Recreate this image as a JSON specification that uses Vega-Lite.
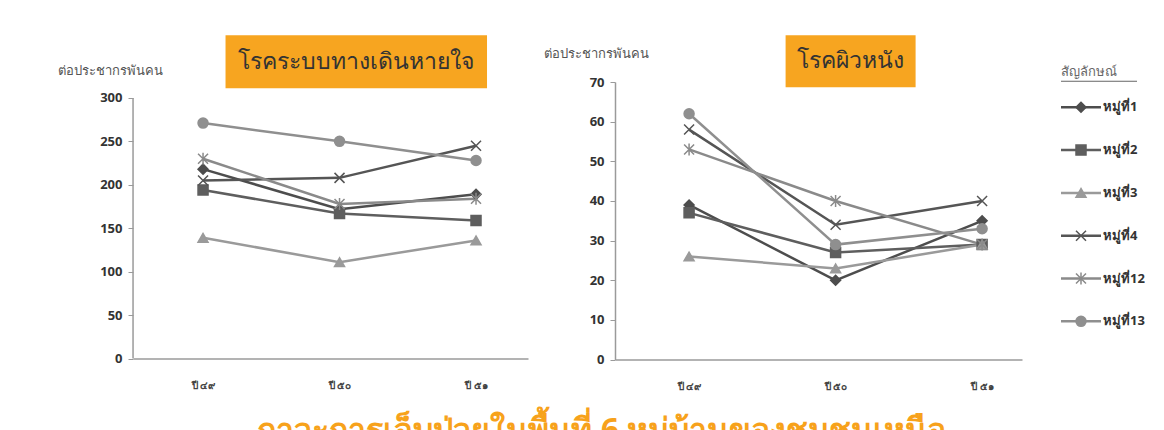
{
  "$schema": "https://vega.github.io/schema/vega-lite/v6.json",
  "background": "white",
  "padding": {"left": 57, "top": 35, "right": 0, "bottom": 0},
  "datasets": {
    "resp": [
      {"series": "หมู่ที่1", "year": "ปี ๔๙", "value": 218},
      {"series": "หมู่ที่1", "year": "ปี ๕๐", "value": 172},
      {"series": "หมู่ที่1", "year": "ปี ๕๑", "value": 189},
      {"series": "หมู่ที่2", "year": "ปี ๔๙", "value": 194},
      {"series": "หมู่ที่2", "year": "ปี ๕๐", "value": 167},
      {"series": "หมู่ที่2", "year": "ปี ๕๑", "value": 159},
      {"series": "หมู่ที่3", "year": "ปี ๔๙", "value": 139},
      {"series": "หมู่ที่3", "year": "ปี ๕๐", "value": 111},
      {"series": "หมู่ที่3", "year": "ปี ๕๑", "value": 136},
      {"series": "หมู่ที่4", "year": "ปี ๔๙", "value": 205},
      {"series": "หมู่ที่4", "year": "ปี ๕๐", "value": 208},
      {"series": "หมู่ที่4", "year": "ปี ๕๑", "value": 245},
      {"series": "หมู่ที่12", "year": "ปี ๔๙", "value": 230},
      {"series": "หมู่ที่12", "year": "ปี ๕๐", "value": 178},
      {"series": "หมู่ที่12", "year": "ปี ๕๑", "value": 184},
      {"series": "หมู่ที่13", "year": "ปี ๔๙", "value": 271},
      {"series": "หมู่ที่13", "year": "ปี ๕๐", "value": 250},
      {"series": "หมู่ที่13", "year": "ปี ๕๑", "value": 228}
    ],
    "skin": [
      {"series": "หมู่ที่1", "year": "ปี ๔๙", "value": 39},
      {"series": "หมู่ที่1", "year": "ปี ๕๐", "value": 20},
      {"series": "หมู่ที่1", "year": "ปี ๕๑", "value": 35},
      {"series": "หมู่ที่2", "year": "ปี ๔๙", "value": 37},
      {"series": "หมู่ที่2", "year": "ปี ๕๐", "value": 27},
      {"series": "หมู่ที่2", "year": "ปี ๕๑", "value": 29},
      {"series": "หมู่ที่3", "year": "ปี ๔๙", "value": 26},
      {"series": "หมู่ที่3", "year": "ปี ๕๐", "value": 23},
      {"series": "หมู่ที่3", "year": "ปี ๕๑", "value": 29},
      {"series": "หมู่ที่4", "year": "ปี ๔๙", "value": 58},
      {"series": "หมู่ที่4", "year": "ปี ๕๐", "value": 34},
      {"series": "หมู่ที่4", "year": "ปี ๕๑", "value": 40},
      {"series": "หมู่ที่12", "year": "ปี ๔๙", "value": 53},
      {"series": "หมู่ที่12", "year": "ปี ๕๐", "value": 40},
      {"series": "หมู่ที่12", "year": "ปี ๕๑", "value": 29},
      {"series": "หมู่ที่13", "year": "ปี ๔๙", "value": 62},
      {"series": "หมู่ที่13", "year": "ปี ๕๐", "value": 29},
      {"series": "หมู่ที่13", "year": "ปี ๕๑", "value": 33}
    ],
    "legend": [
      {"series": "หมู่ที่1"},
      {"series": "หมู่ที่2"},
      {"series": "หมู่ที่3"},
      {"series": "หมู่ที่4"},
      {"series": "หมู่ที่12"},
      {"series": "หมู่ที่13"}
    ]
  },
  "title": {
    "text": "ภาวะการเจ็บป่วยในพื้นที่ 6 หมู่บ้านของชุมชนเหนือ",
    "orient": "bottom",
    "anchor": "middle",
    "offset": 24,
    "fontSize": 32,
    "fontWeight": "bold",
    "color": "#F7A21B",
    "font": "Noto Sans"
  },
  "spacing": 15,
  "hconcat": [
    {
      "width": 395,
      "height": 276.6,
      "layer": [
        {
          "data": {"name": "resp"},
          "mark": {"type": "line", "strokeWidth": 2.5},
          "encoding": {
            "x": {
              "field": "year", "type": "ordinal",
              "scale": {"type": "point", "domain": ["ปี ๔๙", "ปี ๕๐", "ปี ๕๑"], "padding": 0.447, "align": 0.574},
              "axis": {"title": null, "labelAngle": 0, "labelFontSize": 10, "labelFontWeight": "bold", "labelColor": "#444444", "labelPadding": 22, "ticks": false, "domainColor": "#9a9a9a", "domainWidth": 1.5}
            },
            "y": {
              "field": "value", "type": "quantitative",
              "scale": {"domain": [0, 318.3], "nice": false},
              "axis": {"title": "ต่อประชากรพันคน", "values": [0, 50, 100, 150, 200, 250, 300], "labelOverlap": false, "domain": false, "titleAngle": 0, "titleAlign": "left", "titleBaseline": "middle", "titleX": -76, "titleY": -12, "titleFontWeight": "normal", "titleFontSize": 13, "titleColor": "#555555", "labelFontWeight": "bold", "labelFontSize": 13, "labelColor": "#333333", "tickColor": "#9a9a9a", "tickSize": 5, "labelPadding": 6, "grid": false}
            },
            "stroke": {
              "field": "series", "type": "nominal",
              "scale": {"domain": ["หมู่ที่1", "หมู่ที่2", "หมู่ที่3", "หมู่ที่4", "หมู่ที่12", "หมู่ที่13"], "range": ["#4d4d4d", "#5e5e5e", "#9a9a9a", "#555555", "#8a8a8a", "#8f8f8f"]},
              "legend": null
            }
          }
        },
        {
          "data": {"name": "resp"},
          "mark": {"type": "point", "filled": true, "size": 100, "strokeWidth": 1.5, "opacity": 1},
          "encoding": {
            "x": {"field": "year", "type": "ordinal"},
            "y": {"field": "value", "type": "quantitative"},
            "shape": {
              "field": "series", "type": "nominal",
              "scale": {"domain": ["หมู่ที่1", "หมู่ที่2", "หมู่ที่3", "หมู่ที่4", "หมู่ที่12", "หมู่ที่13"], "range": ["diamond", "square", "triangle-up", "M-1,-1L1,1M-1,1L1,-1", "M-1,-1L1,1M-1,1L1,-1M0,-1.2L0,1.2", "circle"]},
              "legend": null
            },
            "fill": {"field": "series", "type": "nominal", "scale": {"domain": ["หมู่ที่1", "หมู่ที่2", "หมู่ที่3", "หมู่ที่4", "หมู่ที่12", "หมู่ที่13"], "range": ["#4d4d4d", "#5e5e5e", "#9a9a9a", "#555555", "#8a8a8a", "#8f8f8f"]}, "legend": null},
            "stroke": {"field": "series", "type": "nominal", "legend": null}
          }
        },
        {
          "data": {"values": [{}]},
          "mark": {"type": "rule", "color": "#9a9a9a", "strokeWidth": 1.5, "xOffset": -70},
          "encoding": {
            "x": {"datum": "ปี ๔๙", "type": "ordinal"},
            "y": {"datum": 0, "type": "quantitative"},
            "y2": {"datum": 300}
          }
        },
        {
          "data": {"values": [{}]},
          "mark": {"type": "rect", "color": "#F7A520", "xOffset": -114, "x2Offset": 11},
          "encoding": {
            "x": {"datum": "ปี ๕๐", "type": "ordinal"},
            "x2": {"datum": "ปี ๕๑"},
            "y": {"datum": 372.0, "type": "quantitative"},
            "y2": {"datum": 311.0}
          }
        },
        {
          "data": {"values": [{}]},
          "mark": {"type": "text", "text": "โรคระบบทางเดินหายใจ", "fontSize": 23, "color": "#333333", "dx": 16, "font": "Noto Sans", "baseline": "middle"},
          "encoding": {
            "x": {"datum": "ปี ๕๐", "type": "ordinal"},
            "y": {"datum": 341.5, "type": "quantitative"}
          }
        }
      ]
    },
    {
      "width": 407,
      "height": 277.6,
      "layer": [
        {
          "data": {"name": "skin"},
          "mark": {"type": "line", "strokeWidth": 2.5},
          "encoding": {
            "x": {
              "field": "year", "type": "ordinal",
              "scale": {"type": "point", "domain": ["ปี ๔๙", "ปี ๕๐", "ปี ๕๑"], "padding": 0.389, "align": 0.65},
              "axis": {"title": null, "labelAngle": 0, "labelFontSize": 10, "labelFontWeight": "bold", "labelColor": "#444444", "labelPadding": 22, "ticks": false, "domainColor": "#9a9a9a", "domainWidth": 1.5}
            },
            "y": {
              "field": "value", "type": "quantitative",
              "scale": {"domain": [0, 70], "nice": false},
              "axis": {"title": "ต่อประชากรพันคน", "values": [0, 10, 20, 30, 40, 50, 60, 70], "tickCount": 8, "labelOverlap": false, "titleAngle": 0, "titleAlign": "left", "titleBaseline": "middle", "titleX": -72, "titleY": -29, "titleFontWeight": "normal", "titleFontSize": 13, "titleColor": "#555555", "labelFontWeight": "bold", "labelFontSize": 13, "labelColor": "#333333", "domainColor": "#9a9a9a", "domainWidth": 1.5, "tickColor": "#9a9a9a", "tickSize": 5, "labelPadding": 6, "grid": false}
            },
            "stroke": {
              "field": "series", "type": "nominal",
              "scale": {"domain": ["หมู่ที่1", "หมู่ที่2", "หมู่ที่3", "หมู่ที่4", "หมู่ที่12", "หมู่ที่13"], "range": ["#4d4d4d", "#5e5e5e", "#9a9a9a", "#555555", "#8a8a8a", "#8f8f8f"]},
              "legend": null
            }
          }
        },
        {
          "data": {"name": "skin"},
          "mark": {"type": "point", "filled": true, "size": 100, "strokeWidth": 1.5, "opacity": 1},
          "encoding": {
            "x": {"field": "year", "type": "ordinal"},
            "y": {"field": "value", "type": "quantitative", "axis": {"values": [0, 10, 20, 30, 40, 50, 60, 70], "tickCount": 8, "labelOverlap": false}},
            "shape": {
              "field": "series", "type": "nominal",
              "scale": {"domain": ["หมู่ที่1", "หมู่ที่2", "หมู่ที่3", "หมู่ที่4", "หมู่ที่12", "หมู่ที่13"], "range": ["diamond", "square", "triangle-up", "M-1,-1L1,1M-1,1L1,-1", "M-1,-1L1,1M-1,1L1,-1M0,-1.2L0,1.2", "circle"]},
              "legend": null
            },
            "fill": {"field": "series", "type": "nominal", "scale": {"domain": ["หมู่ที่1", "หมู่ที่2", "หมู่ที่3", "หมู่ที่4", "หมู่ที่12", "หมู่ที่13"], "range": ["#4d4d4d", "#5e5e5e", "#9a9a9a", "#555555", "#8a8a8a", "#8f8f8f"]}, "legend": null},
            "stroke": {"field": "series", "type": "nominal", "legend": null}
          }
        },
        {
          "data": {"values": [{}]},
          "mark": {"type": "rect", "color": "#F7A520", "xOffset": -50, "x2Offset": 80},
          "encoding": {
            "x": {"datum": "ปี ๕๐", "type": "ordinal"},
            "x2": {"datum": "ปี ๕๐"},
            "y": {"datum": 81.8, "type": "quantitative", "axis": {"values": [0, 10, 20, 30, 40, 50, 60, 70], "tickCount": 8, "labelOverlap": false}},
            "y2": {"datum": 68.7}
          }
        },
        {
          "data": {"values": [{}]},
          "mark": {"type": "text", "text": "โรคผิวหนัง", "fontSize": 23, "color": "#333333", "dx": 15, "font": "Noto Sans", "baseline": "middle"},
          "encoding": {
            "x": {"datum": "ปี ๕๐", "type": "ordinal"},
            "y": {"datum": 75.2, "type": "quantitative", "axis": {"values": [0, 10, 20, 30, 40, 50, 60, 70], "tickCount": 8, "labelOverlap": false}}
          }
        }
      ]
    },
    {
      "width": 64,
      "height": 264.6,
      "data": {"name": "legend"},
      "layer": [
        {
          "mark": {"type": "rule", "strokeWidth": 2.5},
          "encoding": {
            "x": {"datum": 0.6, "type": "quantitative", "scale": {"domain": [0, 1.6]}, "axis": null},
            "x2": {"datum": 1.6},
            "y": {"field": "series", "type": "ordinal", "scale": {"type": "point", "domain": ["หมู่ที่1", "หมู่ที่2", "หมู่ที่3", "หมู่ที่4", "หมู่ที่12", "หมู่ที่13"], "padding": 0.59}, "axis": null},
            "stroke": {"field": "series", "type": "nominal", "legend": null}
          }
        },
        {
          "mark": {"type": "point", "filled": true, "size": 100, "strokeWidth": 1.5, "opacity": 1},
          "encoding": {
            "x": {"datum": 1.1, "type": "quantitative"},
            "y": {"field": "series", "type": "ordinal"},
            "shape": {"field": "series", "type": "nominal", "legend": null},
            "fill": {"field": "series", "type": "nominal", "legend": null},
            "stroke": {"field": "series", "type": "nominal", "legend": null}
          }
        },
        {
          "mark": {"type": "text", "align": "left", "baseline": "middle", "dx": 2, "fontWeight": "bold", "fontSize": 13, "color": "#333333"},
          "encoding": {
            "x": {"datum": 1.6, "type": "quantitative"},
            "y": {"field": "series", "type": "ordinal"},
            "text": {"field": "series"}
          }
        },
        {
          "data": {"values": [{}]},
          "mark": {"type": "text", "text": "สัญลักษณ์", "align": "left", "baseline": "middle", "dy": -35, "fontSize": 13, "color": "#666666"},
          "encoding": {
            "x": {"datum": 0.6, "type": "quantitative"},
            "y": {"datum": "หมู่ที่1", "type": "ordinal"}
          }
        },
        {
          "data": {"values": [{}]},
          "mark": {"type": "rule", "strokeWidth": 1, "color": "#666666", "yOffset": -26},
          "encoding": {
            "x": {"datum": 0.6, "type": "quantitative"},
            "x2": {"datum": 2.5},
            "y": {"datum": "หมู่ที่1", "type": "ordinal"}
          }
        }
      ]
    }
  ],
  "config": {
    "view": {"stroke": null},
    "font": "Noto Sans",
    "axis": {"labelFont": "Open Sans", "titleFont": "Noto Sans"},
    "axisY": {"labelOverlap": false}
  }
}
